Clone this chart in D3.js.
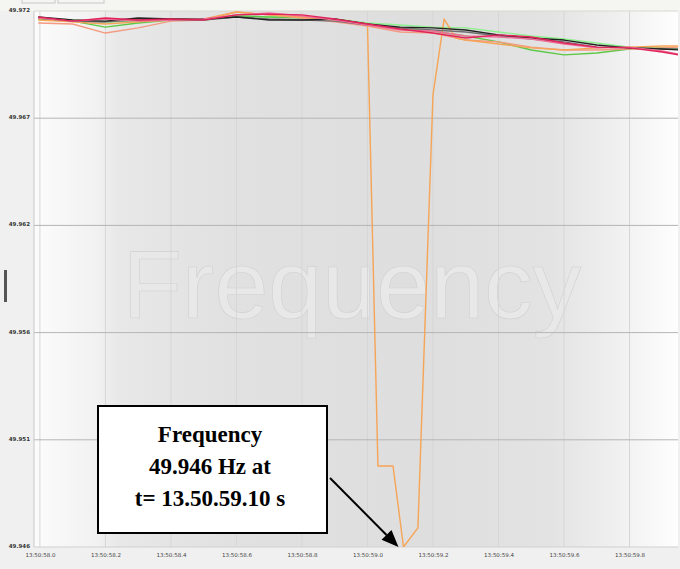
<!DOCTYPE html>
<html><head><meta charset="utf-8">
<script src="https://cdn.jsdelivr.net/npm/d3@7"></script>
<style>body{margin:0;background:#f0f0f0;}svg{display:block;}</style>
</head><body>
<svg id="chart" width="680" height="569"></svg>
<script>
// ---- data ----
const times = [57.995, 58.1, 58.2, 58.3, 58.4, 58.5, 58.6, 58.7, 58.8, 58.9, 59.0, 59.1, 59.2, 59.3, 59.4, 59.5, 59.6, 59.7, 59.8, 59.9, 59.95];
const seriesBlack = [49.97171, 49.97156, 49.97151, 49.97166, 49.97161, 49.97161, 49.97171, 49.97156, 49.97156, 49.97161, 49.97137, 49.97122, 49.97118, 49.97108, 49.97084, 49.97069, 49.97059, 49.97035, 49.97021, 49.97016, 49.97011];
const seriesGray = [49.97166, 49.97151, 49.97147, 49.97156, 49.97156, 49.97156, 49.97171, 49.97161, 49.97156, 49.97151, 49.97132, 49.97118, 49.97108, 49.97098, 49.97079, 49.97064, 49.97050, 49.97025, 49.97021, 49.97016, 49.97016];
const seriesLightGreen = [49.97166, 49.97156, 49.97147, 49.97151, 49.97161, 49.97156, 49.97176, 49.97171, 49.97171, 49.97161, 49.97142, 49.97132, 49.97122, 49.97118, 49.97098, 49.97079, 49.97064, 49.97045, 49.97025, 49.97021, 49.97016];
const seriesGreen = [49.97161, 49.97151, 49.97122, 49.97142, 49.97156, 49.97156, 49.97176, 49.97171, 49.97166, 49.97156, 49.97132, 49.97118, 49.97103, 49.97079, 49.97050, 49.97011, 49.96987, 49.96996, 49.97016, 49.97021, 49.97016];
const seriesCrimson = [49.97171, 49.97151, 49.97166, 49.97156, 49.97161, 49.97156, 49.97181, 49.97185, 49.97181, 49.97161, 49.97137, 49.97113, 49.97093, 49.97069, 49.97084, 49.97074, 49.97045, 49.97025, 49.97021, 49.97001, 49.96987];
const seriesPink = [49.97166, 49.97151, 49.97161, 49.97151, 49.97156, 49.97161, 49.97181, 49.97190, 49.97176, 49.97156, 49.97132, 49.97108, 49.97103, 49.97079, 49.97074, 49.97064, 49.97040, 49.97021, 49.97025, 49.97006, 49.96991];
const seriesSalmon = [49.97142, 49.97137, 49.97093, 49.97118, 49.97151, 49.97156, 49.97195, 49.97181, 49.97166, 49.97147, 49.97127, 49.97098, 49.97093, 49.97059, 49.97050, 49.97025, 49.97011, 49.97011, 49.97016, 49.97021, 49.97025];
const orangeTimes = [57.995, 58.1, 58.2, 58.3, 58.4, 58.5, 58.6, 58.7, 58.8, 58.9, 59.0, 59.032, 59.078, 59.11, 59.154, 59.2, 59.234, 59.27, 59.3, 59.4, 59.5, 59.6, 59.7, 59.8, 59.9, 59.95];
const orangeValues = [49.97156, 49.97147, 49.97137, 49.97147, 49.97156, 49.97161, 49.97195, 49.97181, 49.97171, 49.97156, 49.97137, 49.94993, 49.94993, 49.94600, 49.94693, 49.96793, 49.97161, 49.97069, 49.97059, 49.97040, 49.97021, 49.97011, 49.97021, 49.97025, 49.97030, 49.97030];
const yTickValues = [49.972, 49.9668, 49.9616, 49.9564, 49.9512, 49.946];
const yTickLabels = ["49.972", "49.967", "49.962", "49.956", "49.951", "49.946"];
const xTickValues = [58.0, 58.2, 58.4, 58.6, 58.8, 59.0, 59.2, 59.4, 59.6, 59.8];
const xTickLabels = ["13:50:58.0", "13:50:58.2", "13:50:58.4", "13:50:58.6", "13:50:58.8", "13:50:59.0", "13:50:59.2", "13:50:59.4", "13:50:59.6", "13:50:59.8"];
const annotationLines = ["Frequency", "49.946 Hz at", "t= 13.50.59.10 s"];
const watermark = "Frequency";

// ---- layout ----
const svg = d3.select("#chart");
const L = 34, R = 678, T = 11, B = 547;
const x = d3.scaleLinear().domain([57.982, 59.948]).range([L, R]);
const y = d3.scaleLinear().domain([49.946, 49.972]).range([B, T]);

const defs = svg.append("defs");
const grad = defs.append("linearGradient").attr("id", "bg").attr("x1", "0").attr("x2", "1").attr("y1", "0").attr("y2", "0");
[[0, "#fcfcfc"], [0.1, "#f1f1f1"], [0.13, "#e8e8e8"], [0.3, "#e1e1e1"], [0.6, "#dedede"], [0.8, "#e3e3e3"], [0.9, "#efefef"], [1, "#fefefe"]]
  .forEach(([o, c]) => grad.append("stop").attr("offset", o).attr("stop-color", c));
defs.append("clipPath").attr("id", "clip").append("rect").attr("x", L).attr("y", T).attr("width", R - L).attr("height", B - T);

// outer background
svg.append("rect").attr("width", 680).attr("height", 569).attr("fill", "#f0f0f0");
svg.append("rect").attr("x", 0).attr("y", 0).attr("width", 680).attr("height", T).attr("fill", "#f5f5f2");
svg.append("rect").attr("x", 22).attr("y", -2).attr("width", 33).attr("height", 5).attr("fill", "none").attr("stroke", "#c8c8c8");
svg.append("rect").attr("x", 58).attr("y", -2).attr("width", 46).attr("height", 5).attr("fill", "none").attr("stroke", "#c8c8c8");
svg.append("rect").attr("x", 4).attr("y", 270).attr("width", 3).attr("height", 32).attr("fill", "#555");

// plot background
svg.append("rect").attr("x", L).attr("y", T).attr("width", R - L).attr("height", B - T).attr("fill", "url(#bg)");

// watermark
const wm = svg.append("g").attr("clip-path", "url(#clip)");
wm.append("text").attr("x", 352).attr("y", 318).attr("text-anchor", "middle")
  .attr("font-family", "Liberation Sans, Arial, sans-serif").attr("font-size", 97)
  .attr("fill", "#e8e8e8").attr("stroke", "#d0d0d0").attr("stroke-width", 0.6).text(watermark);

// grid
const grid = svg.append("g");
grid.selectAll("line.v").data(xTickValues).join("line").attr("class", "v")
  .attr("x1", d => x(d)).attr("x2", d => x(d)).attr("y1", T).attr("y2", B)
  .attr("stroke", "#d6d6d6").attr("stroke-width", 1);
grid.selectAll("line.h").data(yTickValues.slice(1, -1)).join("line").attr("class", "h")
  .attr("x1", L).attr("x2", R).attr("y1", d => y(d)).attr("y2", d => y(d))
  .attr("stroke", "#b5b5b5").attr("stroke-width", 1);

// plot border
svg.append("line").attr("x1", L).attr("x2", L).attr("y1", T).attr("y2", B).attr("stroke", "#c8c8c8");
svg.append("line").attr("x1", L).attr("x2", R).attr("y1", T).attr("y2", T).attr("stroke", "#d8d8d0");
svg.append("line").attr("x1", L).attr("x2", R).attr("y1", B).attr("y2", B).attr("stroke", "#d0d0d0");

// axes
const yAxis = d3.axisLeft(y).tickValues(yTickValues).tickSize(0).tickPadding(4)
  .tickFormat((d, i) => yTickLabels[i]);
const gy = svg.append("g").attr("transform", `translate(${L},0)`).call(yAxis);
gy.select(".domain").remove();
gy.selectAll("text").attr("font-family", "DejaVu Sans, sans-serif").attr("font-size", 5.5)
  .attr("font-weight", "bold").attr("fill", "#333").attr("dy", "0.1em");
const xAxis = d3.axisBottom(x).tickValues(xTickValues).tickSize(0).tickPadding(6)
  .tickFormat((d, i) => xTickLabels[i]);
const gx = svg.append("g").attr("transform", `translate(0,${B})`).call(xAxis);
gx.select(".domain").remove();
gx.selectAll("text").attr("font-family", "DejaVu Sans, sans-serif").attr("font-size", 5.5).attr("fill", "#444");

// series
const line = d3.line().x(d => x(d[0])).y(d => y(d[1]));
const series = [
  [times, seriesLightGreen, "#8ef08e"],
  [times, seriesGreen, "#5cc845"],
  [times, seriesSalmon, "#f49a80"],
  [orangeTimes, orangeValues, "#f6a455"],
  [times, seriesGray, "#707070"],
  [times, seriesBlack, "#222222"],
  [times, seriesPink, "#f0709a"],
  [times, seriesCrimson, "#e0245a"]
];
const gl = svg.append("g").attr("clip-path", "url(#clip)");
series.forEach(([ts, vs, c]) => {
  gl.append("path").datum(ts.map((t, i) => [t, vs[i]])).attr("d", line)
    .attr("fill", "none").attr("stroke", c).attr("stroke-width", 1.4).attr("stroke-linejoin", "round");
});

// annotation
const ann = svg.append("g");
ann.append("rect").attr("x", 98).attr("y", 406).attr("width", 229).attr("height", 127)
  .attr("fill", "#fff").attr("stroke", "#000").attr("stroke-width", 2);
ann.selectAll("text").data(annotationLines).join("text")
  .attr("x", 210).attr("y", (d, i) => 442 + i * 32).attr("text-anchor", "middle")
  .attr("font-family", "Liberation Serif, Times New Roman, serif").attr("font-weight", "bold")
  .attr("font-size", 23).attr("fill", "#000").text(d => d);
// arrow to minimum point
const minIdx = orangeValues.indexOf(d3.min(orangeValues));
const tipX = x(orangeTimes[minIdx]) - 5, tipY = y(orangeValues[minIdx]);
const sx = 330, sy = 478;
const ang = Math.atan2(tipY - sy, tipX - sx);
const hl = 17, hw = 7;
const bx = tipX - hl * Math.cos(ang), by = tipY - hl * Math.sin(ang);
ann.append("line").attr("x1", sx).attr("y1", sy).attr("x2", bx).attr("y2", by).attr("stroke", "#000").attr("stroke-width", 2);
ann.append("path").attr("d", `M${tipX},${tipY}L${bx + hw * Math.sin(ang)},${by - hw * Math.cos(ang)}L${bx - hw * Math.sin(ang)},${by + hw * Math.cos(ang)}Z`).attr("fill", "#000");
</script>
</body></html>
